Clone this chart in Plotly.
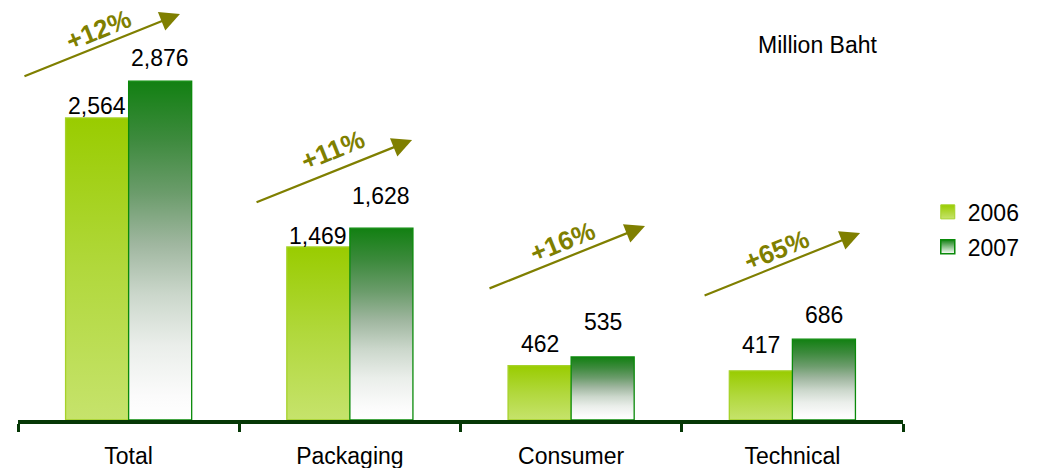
import plotly.graph_objects as go

# Sales by business segment, million baht
categories = ["Total", "Packaging", "Consumer", "Technical"]
sales_2006 = [2564, 1469, 462, 417]
sales_2007 = [2876, 1628, 535, 686]
years = ["2006", "2007"]

# styling
FONT = "Liberation Sans, Arial, sans-serif"
OLIVE = "#7f7f00"
AXIS_GREEN = "#063806"
BAR_W = 0.285
GRAD_2006 = [[0.0, "#c6e36c"], [0.5, "#b1d83c"], [1.0, "#99cc00"]]
GRAD_2007 = [[0.0, "#ffffff"], [0.07, "#fbfbfb"], [0.22, "#eaeeea"],
             [0.37, "#cbd7cb"], [0.52, "#9fb69f"], [0.67, "#6b9c6b"],
             [0.83, "#3d8a3d"], [1.0, "#128012"]]
EDGE_2006 = "#a6d22a"
EDGE_2007 = "#0a8a0a"

# label lift above each bar top (px)
lift_2006 = [-3, -4, 7, 11]
lift_2007 = [8, 17, 20, 9]
# growth arrow head positions (x offset from category centre, y in data units)
arrow_dx = [0.232, 0.281, 0.334, 0.306]
arrow_tip_y = [3447, 2377, 1647, 1587]
# growth text centres
pct_dx = [-0.138, -0.076, -0.041, -0.07]
pct_y = [3311, 2292, 1511, 1443]

fig = go.Figure()


def add_bar(xc, value, scale, edge):
    x0, x1 = xc - BAR_W / 2, xc + BAR_W / 2
    fig.add_trace(go.Scatter(
        x=[x0, x1, x1, x0, x0], y=[0, 0, value, value, 0],
        mode="lines", fill="toself",
        fillgradient=dict(type="vertical", colorscale=scale),
        line=dict(color=edge, width=1.3),
        showlegend=False, hoverinfo="skip",
    ))


for i, cat in enumerate(categories):
    add_bar(i - BAR_W / 2, sales_2006[i], GRAD_2006, EDGE_2006)
    add_bar(i + BAR_W / 2, sales_2007[i], GRAD_2007, EDGE_2007)

# legend entries
fig.add_trace(go.Scatter(
    x=[None], y=[None], mode="markers", name=years[0], legendgroup="y0",
    marker=dict(symbol="square", size=14, color="#99cc00",
                gradient=dict(type="vertical", color="#c6e36c"),
                line=dict(color=EDGE_2006, width=1)),
))
fig.add_trace(go.Scatter(
    x=[None], y=[None], mode="markers", name=years[1], legendgroup="y1",
    marker=dict(symbol="square", size=14, color="#128012",
                gradient=dict(type="vertical", color="#ffffff"),
                line=dict(color=EDGE_2007, width=1.5)),
))

annotations = []
for i, cat in enumerate(categories):
    annotations.append(dict(
        x=i - BAR_W / 2, y=sales_2006[i], text=f"{sales_2006[i]:,}",
        showarrow=False, yanchor="bottom", yshift=lift_2006[i],
        font=dict(family=FONT, size=23, color="black"),
    ))
    annotations.append(dict(
        x=i + BAR_W / 2, y=sales_2007[i], text=f"{sales_2007[i]:,}",
        showarrow=False, yanchor="bottom", yshift=lift_2007[i],
        font=dict(family=FONT, size=23, color="black"),
    ))
    # growth arrow
    annotations.append(dict(
        x=i + arrow_dx[i], y=arrow_tip_y[i], ax=-157, ay=63,
        axref="pixel", ayref="pixel", text="", showarrow=True,
        arrowhead=2, arrowsize=1.8, arrowwidth=2.2, arrowcolor=OLIVE,
    ))
    growth = round((sales_2007[i] / sales_2006[i] - 1) * 100)
    annotations.append(dict(
        x=i + pct_dx[i], y=pct_y[i], text=f"<b>+{growth}%</b>",
        showarrow=False, textangle=-22,
        font=dict(family=FONT, size=26, color=OLIVE),
    ))

annotations.append(dict(
    xref="paper", yref="paper", x=0.903, y=0.915, text="Million Baht",
    xanchor="center", yanchor="middle",
    showarrow=False, font=dict(family=FONT, size=23, color="black"),
))

fig.update_layout(
    width=1038, height=468,
    margin=dict(l=18, r=135, t=10, b=48),
    paper_bgcolor="white", plot_bgcolor="white",
    font=dict(family=FONT, size=23, color="black"),
    annotations=annotations,
    legend=dict(x=1.028, y=0.56, xanchor="left", yanchor="top",
                font=dict(family=FONT, size=23, color="black"),
                itemwidth=30, tracegroupgap=2),
    xaxis=dict(
        range=[-0.5, 3.5], tickvals=list(range(len(categories))),
        ticktext=categories, ticks="", showgrid=False, zeroline=False,
        showline=True, linecolor=AXIS_GREEN, linewidth=4,
        ticklabelstandoff=12, automargin=False,
        tickfont=dict(family=FONT, size=23, color="black"),
        minor=dict(tickvals=[-0.5, 0.5, 1.5, 2.5, 3.5], ticks="outside",
                   ticklen=8, tickwidth=3, tickcolor=AXIS_GREEN,
                   showgrid=False),
    ),
    yaxis=dict(range=[0, 3480], visible=False, showgrid=False,
               automargin=False),
    showlegend=True,
)

fig.write_html("out.html")
